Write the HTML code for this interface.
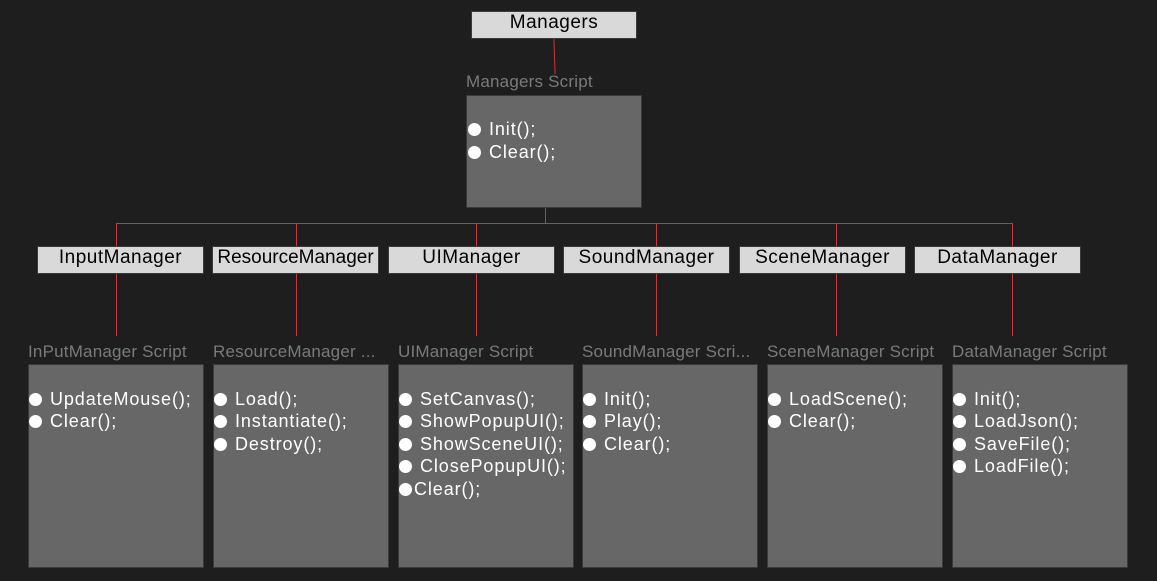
<!DOCTYPE html>
<html><head><meta charset="utf-8"><style>
body{margin:0;width:1157px;height:581px;background:#1e1e1e;position:relative;overflow:hidden;font-family:"Liberation Sans",sans-serif}
.h{position:absolute;background:#d9d9d9;border:1px solid #3a3a3a;box-sizing:border-box;color:#000;font-size:19px;letter-spacing:0.5px;text-align:center;line-height:22px;height:28px;white-space:nowrap}
.lbl{position:absolute;color:#7a7a7a;font-size:17px;letter-spacing:0.2px;white-space:nowrap;line-height:20px}
.box{position:absolute;background:#676767;border:1px solid #3a3a3a;box-sizing:border-box}
.it{position:absolute;color:#fff;font-size:18px;letter-spacing:0.9px;white-space:nowrap;line-height:22px}
.it::before{content:"";display:inline-block;width:13px;height:13px;border-radius:50%;background:#fff;margin-right:8px;vertical-align:-1px}
.it.t::before{margin-right:2px}
.v{position:absolute;width:1px;background:#c8373a}
.hl{position:absolute;height:1px;background:#c8373a}
</style></head><body>
<div class="v" style="left:554px;top:39px;height:35px;transform:rotate(-2deg)"></div>
<div class="h" style="left:471px;top:11px;width:166px">Managers</div>
<div class="lbl" style="left:466px;top:72px">Managers Script</div>
<div class="box" style="left:466px;top:95px;width:176px;height:113px"></div>
<div class="it" style="left:468px;top:118px">Init();</div>
<div class="it" style="left:468px;top:141px">Clear();</div>
<div class="v" style="left:545px;top:208px;height:16px"></div>
<div class="hl" style="left:116px;top:223px;width:897px"></div>

<div class="v" style="left:116px;top:223px;height:113px"></div>
<div class="v" style="left:296px;top:223px;height:113px"></div>
<div class="v" style="left:476px;top:223px;height:113px"></div>
<div class="v" style="left:656px;top:223px;height:113px"></div>
<div class="v" style="left:836px;top:223px;height:113px"></div>
<div class="v" style="left:1012px;top:223px;height:113px"></div>

<div class="h" style="left:37px;top:246px;width:167px">InputManager</div>
<div class="h" style="left:212px;top:246px;width:167px;letter-spacing:0">ResourceManager</div>
<div class="h" style="left:388px;top:246px;width:167px">UIManager</div>
<div class="h" style="left:563px;top:246px;width:167px">SoundManager</div>
<div class="h" style="left:739px;top:246px;width:167px">SceneManager</div>
<div class="h" style="left:914px;top:246px;width:167px">DataManager</div>

<div class="lbl" style="left:28px;top:342px">InPutManager Script</div>
<div class="lbl" style="left:213px;top:342px">ResourceManager ...</div>
<div class="lbl" style="left:398px;top:342px">UIManager Script</div>
<div class="lbl" style="left:582px;top:342px">SoundManager Scri...</div>
<div class="lbl" style="left:767px;top:342px">SceneManager Script</div>
<div class="lbl" style="left:952px;top:342px">DataManager Script</div>

<div class="box" style="left:28px;top:364px;width:176px;height:204px"></div>
<div class="box" style="left:213px;top:364px;width:176px;height:204px"></div>
<div class="box" style="left:398px;top:364px;width:176px;height:204px"></div>
<div class="box" style="left:582px;top:364px;width:176px;height:204px"></div>
<div class="box" style="left:767px;top:364px;width:176px;height:204px"></div>
<div class="box" style="left:952px;top:364px;width:176px;height:204px"></div>

<div class="it" style="left:29px;top:388px">UpdateMouse();</div>
<div class="it" style="left:29px;top:410px">Clear();</div>

<div class="it" style="left:214px;top:388px">Load();</div>
<div class="it" style="left:214px;top:410px">Instantiate();</div>
<div class="it" style="left:214px;top:433px">Destroy();</div>

<div class="it" style="left:399px;top:388px">SetCanvas();</div>
<div class="it" style="left:399px;top:410px">ShowPopupUI();</div>
<div class="it" style="left:399px;top:433px">ShowSceneUI();</div>
<div class="it" style="left:399px;top:455px">ClosePopupUI();</div>
<div class="it t" style="left:399px;top:478px">Clear();</div>

<div class="it" style="left:583px;top:388px">Init();</div>
<div class="it" style="left:583px;top:410px">Play();</div>
<div class="it" style="left:583px;top:433px">Clear();</div>

<div class="it" style="left:768px;top:388px">LoadScene();</div>
<div class="it" style="left:768px;top:410px">Clear();</div>

<div class="it" style="left:953px;top:388px">Init();</div>
<div class="it" style="left:953px;top:410px">LoadJson();</div>
<div class="it" style="left:953px;top:433px">SaveFile();</div>
<div class="it" style="left:953px;top:455px">LoadFile();</div>
</body></html>
